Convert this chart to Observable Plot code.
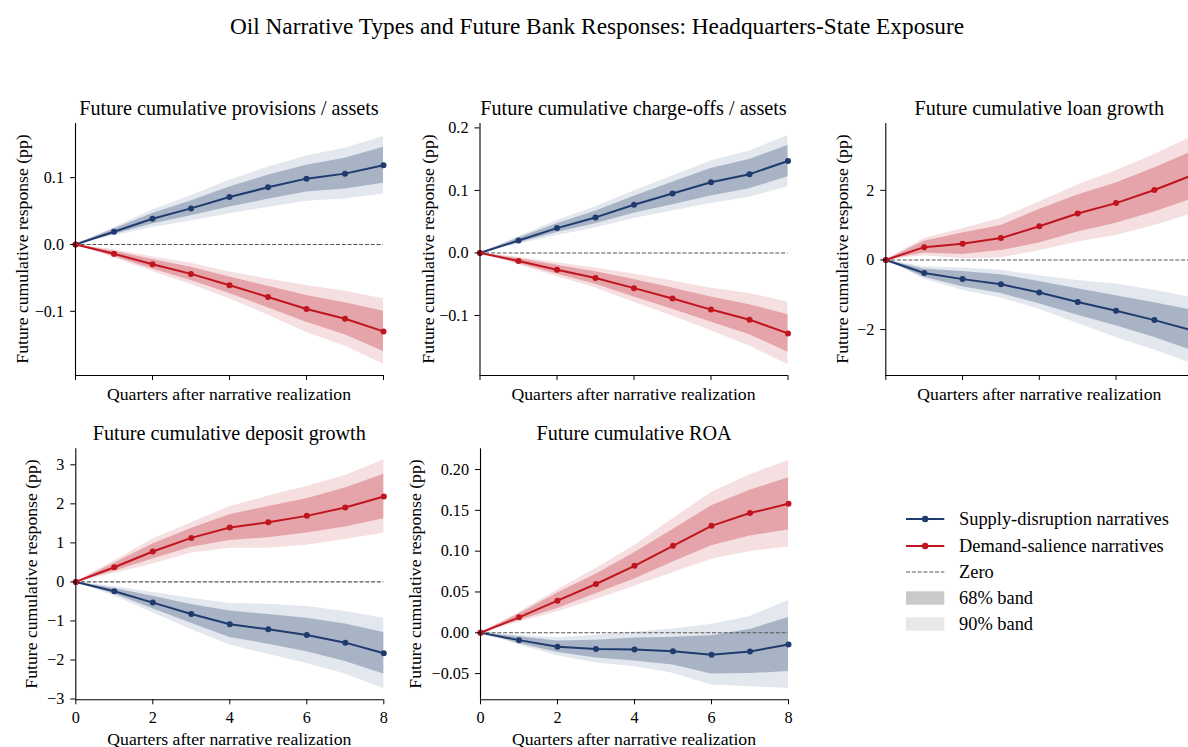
<!DOCTYPE html>
<html>
<head>
<meta charset="utf-8">
<script src="https://cdn.jsdelivr.net/npm/d3@7"></script>
<script src="https://cdn.jsdelivr.net/npm/@observablehq/plot@0.6"></script>
<style>
  html, body { margin: 0; padding: 0; background: #fff; overflow: hidden; }
  body { width: 1188px; height: 747px; position: relative; font-family: "Liberation Serif", "Times New Roman", serif; color: #000; }
  .abs { position: absolute; white-space: nowrap; }
  .ctr { transform: translate(-50%, -50%); }
  .rot { transform: translate(-50%, -50%) rotate(-90deg); }
  .supt { font-size: 23.3px; }
  .ptitle { font-size: 20.2px; }
  .alabel { font-size: 17.7px; }
  .leg { font-size: 18.4px; }
</style>
</head>
<body>
<div id="root"></div>
<script>
// ---------------- data ----------------
const quarters = [0, 1, 2, 3, 4, 5, 6, 7, 8];
const seriesNames = ["Supply-disruption narratives", "Demand-salience narratives"];

// Future cumulative provisions / assets
const provSupply   = [0, 0.019, 0.0385, 0.054, 0.071, 0.0855, 0.0985, 0.106, 0.1185];
const provSupply68 = [0, 0.004, 0.008, 0.011, 0.015, 0.018, 0.020, 0.023, 0.027];
const provSupply90 = [0, 0.006, 0.013, 0.019, 0.025, 0.030, 0.034, 0.038, 0.043];
const provDemand   = [0, -0.014, -0.0295, -0.044, -0.061, -0.0785, -0.0965, -0.111, -0.130];
const provDemand68 = [0, 0.004, 0.007, 0.010, 0.0125, 0.016, 0.020, 0.024, 0.030];
const provDemand90 = [0, 0.006, 0.011, 0.016, 0.020, 0.027, 0.035, 0.041, 0.049];

// Future cumulative charge-offs / assets
const coSupply   = [0, 0.0198, 0.0397, 0.0568, 0.077, 0.095, 0.113, 0.126, 0.147];
const coSupply68 = [0, 0.004, 0.007, 0.010, 0.0135, 0.018, 0.022, 0.0235, 0.025];
const coSupply90 = [0, 0.006, 0.012, 0.017, 0.022, 0.028, 0.034, 0.037, 0.041];
const coDemand   = [0, -0.0129, -0.0268, -0.040, -0.0563, -0.0729, -0.0906, -0.1067, -0.1287];
const coDemand68 = [0, 0.004, 0.007, 0.010, 0.014, 0.017, 0.020, 0.024, 0.030];
const coDemand90 = [0, 0.006, 0.011, 0.016, 0.0225, 0.028, 0.034, 0.042, 0.050];

// Future cumulative loan growth
const loanSupply   = [0, -0.377, -0.551, -0.696, -0.937, -1.208, -1.459, -1.729, -2.03];
const loanSupply68 = [0, 0.12, 0.22, 0.27, 0.32, 0.38, 0.43, 0.50, 0.58];
const loanSupply90 = [0, 0.18, 0.32, 0.40, 0.48, 0.62, 0.77, 0.86, 0.95];
const loanDemand   = [0, 0.367, 0.464, 0.628, 0.966, 1.333, 1.633, 2.01, 2.44];
const loanDemand68 = [0, 0.17, 0.31, 0.36, 0.48, 0.53, 0.58, 0.63, 0.68];
const loanDemand90 = [0, 0.25, 0.43, 0.57, 0.70, 0.82, 0.93, 1.02, 1.11];

// Future cumulative deposit growth
const depSupply   = [0, -0.239, -0.53, -0.82, -1.085, -1.214, -1.359, -1.556, -1.829];
const depSupply68 = [0, 0.07, 0.16, 0.24, 0.34, 0.38, 0.43, 0.48, 0.53];
const depSupply90 = [0, 0.12, 0.26, 0.40, 0.53, 0.64, 0.73, 0.80, 0.90];
const depDemand   = [0, 0.376, 0.778, 1.128, 1.393, 1.53, 1.692, 1.906, 2.188];
const depDemand68 = [0, 0.10, 0.19, 0.24, 0.33, 0.40, 0.44, 0.50, 0.57];
const depDemand90 = [0, 0.16, 0.32, 0.39, 0.53, 0.67, 0.75, 0.82, 0.94];

// Future cumulative ROA
const roaSupply   = [0, -0.009, -0.0172, -0.020, -0.0205, -0.0225, -0.027, -0.023, -0.0143];
const roaSupply68 = [0, 0.004, 0.007, 0.011, 0.014, 0.017, 0.0235, 0.027, 0.033];
const roaSupply90 = [0, 0.006, 0.011, 0.017, 0.021, 0.027, 0.037, 0.043, 0.054];
const roaDemand   = [0, 0.0189, 0.0393, 0.0598, 0.082, 0.1066, 0.131, 0.1467, 0.158];
const roaDemand68 = [0, 0.004, 0.0095, 0.012, 0.016, 0.020, 0.0245, 0.028, 0.032];
const roaDemand90 = [0, 0.006, 0.0135, 0.019, 0.025, 0.033, 0.041, 0.047, 0.053];

const panelTitles = [
  "Future cumulative provisions / assets",
  "Future cumulative charge-offs / assets",
  "Future cumulative loan growth",
  "Future cumulative deposit growth",
  "Future cumulative ROA"
];
const yTicks = [
  [-0.1, 0.0, 0.1],
  [-0.1, 0.0, 0.1, 0.2],
  [-2, 0, 2],
  [-3, -2, -1, 0, 1, 2, 3],
  [-0.05, 0.00, 0.05, 0.10, 0.15, 0.20]
];
const yFormats = [".1f", ".1f", "d", "d", ".2f"];
const xTicks = [0, 2, 4, 6, 8];
const suptitle = "Oil Narrative Types and Future Bank Responses: Headquarters-State Exposure";
const yLabel = "Future cumulative response (pp)";
const xLabel = "Quarters after narrative realization";
const legendLabels = ["Supply-disruption narratives", "Demand-salience narratives", "Zero", "68% band", "90% band"];

// ---------------- styling / layout ----------------
const colors = {
  supply: { line: "#1f3b6e", b68: "#a9b3c6", b90: "#e3e7ee" },
  demand: { line: "#c0141e", b68: "#e4a4a9", b90: "#f6dfe0" }
};
const panelData = [
  [provSupply, provSupply68, provSupply90, provDemand, provDemand68, provDemand90],
  [coSupply, coSupply68, coSupply90, coDemand, coDemand68, coDemand90],
  [loanSupply, loanSupply68, loanSupply90, loanDemand, loanDemand68, loanDemand90],
  [depSupply, depSupply68, depSupply90, depDemand, depDemand68, depDemand90],
  [roaSupply, roaSupply68, roaSupply90, roaDemand, roaDemand68, roaDemand90]
];
const yDomains = [
  [-0.196, 0.181],
  [-0.196, 0.207],
  [-3.32, 3.92],
  [-3.02, 3.41],
  [-0.0821, 0.2254]
];
// layout: [svgLeft, svgTop, marginLeft, plotWidth, marginTop, plotHeight, marginBottom, row]
const layout = [
  [0,   110, 75,   308, 13, 252, 12, 0],
  [400, 110, 79.5, 308, 13, 252, 12, 0],
  [800, 110, 85.3, 307, 13, 252, 12, 0],
  [0,   435, 75.3, 308, 13.3, 251, 34, 1],
  [400, 435, 80,   308, 13.3, 251, 34, 1]
];
const ylabelX = [22, 428, 842, 31, 415];

const root = document.getElementById("root");
function addText(cls, text, left, top) {
  const d = document.createElement("div");
  d.className = "abs " + cls;
  d.textContent = text;
  d.style.left = left + "px";
  d.style.top = top + "px";
  root.appendChild(d);
  return d;
}

addText("supt ctr", suptitle, 597, 26);

panelData.forEach((arrs, i) => {
  const [sEst, s68, s90, dEst, d68, d90] = arrs;
  const rows = (est, h68, h90, name) => quarters.map((q, k) => ({
    q, series: name, est: est[k],
    lo68: est[k] - h68[k], hi68: est[k] + h68[k],
    lo90: est[k] - h90[k], hi90: est[k] + h90[k]
  }));
  const sup = rows(sEst, s68, s90, seriesNames[0]);
  const dem = rows(dEst, d68, d90, seriesNames[1]);
  const [left, top, mL, pW, mT, pH, mB, row] = layout[i];
  const W = 400, H = mT + pH + mB;
  const mR = W - mL - pW;
  const fmt = d3.format(yFormats[i]);
  const chart = Plot.plot({
    width: W, height: H,
    marginLeft: mL, marginRight: mR, marginTop: mT, marginBottom: mB,
    x: { domain: [0, 8] },
    y: { domain: yDomains[i] },
    style: { fontFamily: "'Liberation Serif', 'Times New Roman', serif", fontSize: "16.2px", color: "#000", background: "transparent", overflow: "visible" },
    marks: [
      Plot.areaY(sup, { x: "q", y1: "lo90", y2: "hi90", fill: colors.supply.b90 }),
      Plot.areaY(sup, { x: "q", y1: "lo68", y2: "hi68", fill: colors.supply.b68 }),
      Plot.areaY(dem, { x: "q", y1: "lo90", y2: "hi90", fill: colors.demand.b90 }),
      Plot.areaY(dem, { x: "q", y1: "lo68", y2: "hi68", fill: colors.demand.b68 }),
      Plot.ruleY([0], { stroke: "#555", strokeWidth: 1.1, strokeDasharray: "4,1.8" }),
      Plot.line(sup, { x: "q", y: "est", stroke: colors.supply.line, strokeWidth: 2 }),
      Plot.dot(sup, { x: "q", y: "est", fill: colors.supply.line, r: 3 }),
      Plot.line(dem, { x: "q", y: "est", stroke: colors.demand.line, strokeWidth: 2 }),
      Plot.dot(dem, { x: "q", y: "est", fill: colors.demand.line, r: 3 }),
      Plot.axisY({ ticks: yTicks[i], tickSize: 5, tickPadding: 6.5, tickFormat: fmt, label: null }),
      Plot.axisX({ ticks: xTicks, tickSize: 5, tickPadding: 6.5, tickFormat: row === 0 ? () => "" : d3.format("d"), label: null }),
      Plot.ruleX([0], { stroke: "#000", strokeWidth: 1.1 }),
      Plot.ruleY([yDomains[i][0]], { stroke: "#000", strokeWidth: 1.1 })
    ]
  });
  chart.style.position = "absolute";
  chart.style.left = left + "px";
  chart.style.top = top + "px";
  root.appendChild(chart);

  addText("ptitle ctr", panelTitles[i], left + mL + 154, row === 0 ? 108 : 433);
  addText("alabel rot", yLabel, ylabelX[i], top + mT + pH / 2);
  addText("alabel ctr", xLabel, left + mL + 154, row === 0 ? 394 : 739);
});

// legend
const legRows = [519.3, 545.6, 572, 598.3, 624.3];
const legX0 = 905.7, legX1 = 944, legTextX = 959;
legendLabels.forEach((lab, k) => {
  const y = legRows[k];
  const svgNS = "http://www.w3.org/2000/svg";
  const s = document.createElementNS(svgNS, "svg");
  s.setAttribute("width", legX1 - legX0 + 4);
  s.setAttribute("height", 20);
  s.style.position = "absolute";
  s.style.left = (legX0 - 2) + "px";
  s.style.top = (y - 10) + "px";
  let html = "";
  const w = legX1 - legX0;
  if (k < 2) {
    const c = k === 0 ? colors.supply.line : colors.demand.line;
    html = `<line x1="2" x2="${w + 2}" y1="10" y2="10" stroke="${c}" stroke-width="2"/><circle cx="${2 + w / 2}" cy="10" r="3.2" fill="${c}"/>`;
  } else if (k === 2) {
    html = `<line x1="2" x2="${w + 2}" y1="10" y2="10" stroke="#555" stroke-width="1.1" stroke-dasharray="4,1.8"/>`;
  } else {
    const c = k === 3 ? "#c9c9c9" : "#e8e8e8";
    html = `<rect x="2" y="3.3" width="${w}" height="13.4" fill="${c}"/>`;
  }
  s.innerHTML = html;
  root.appendChild(s);
  const d = addText("leg", lab, legTextX, y);
  d.style.transform = "translateY(-50%)";
});
</script>
</body>
</html>
